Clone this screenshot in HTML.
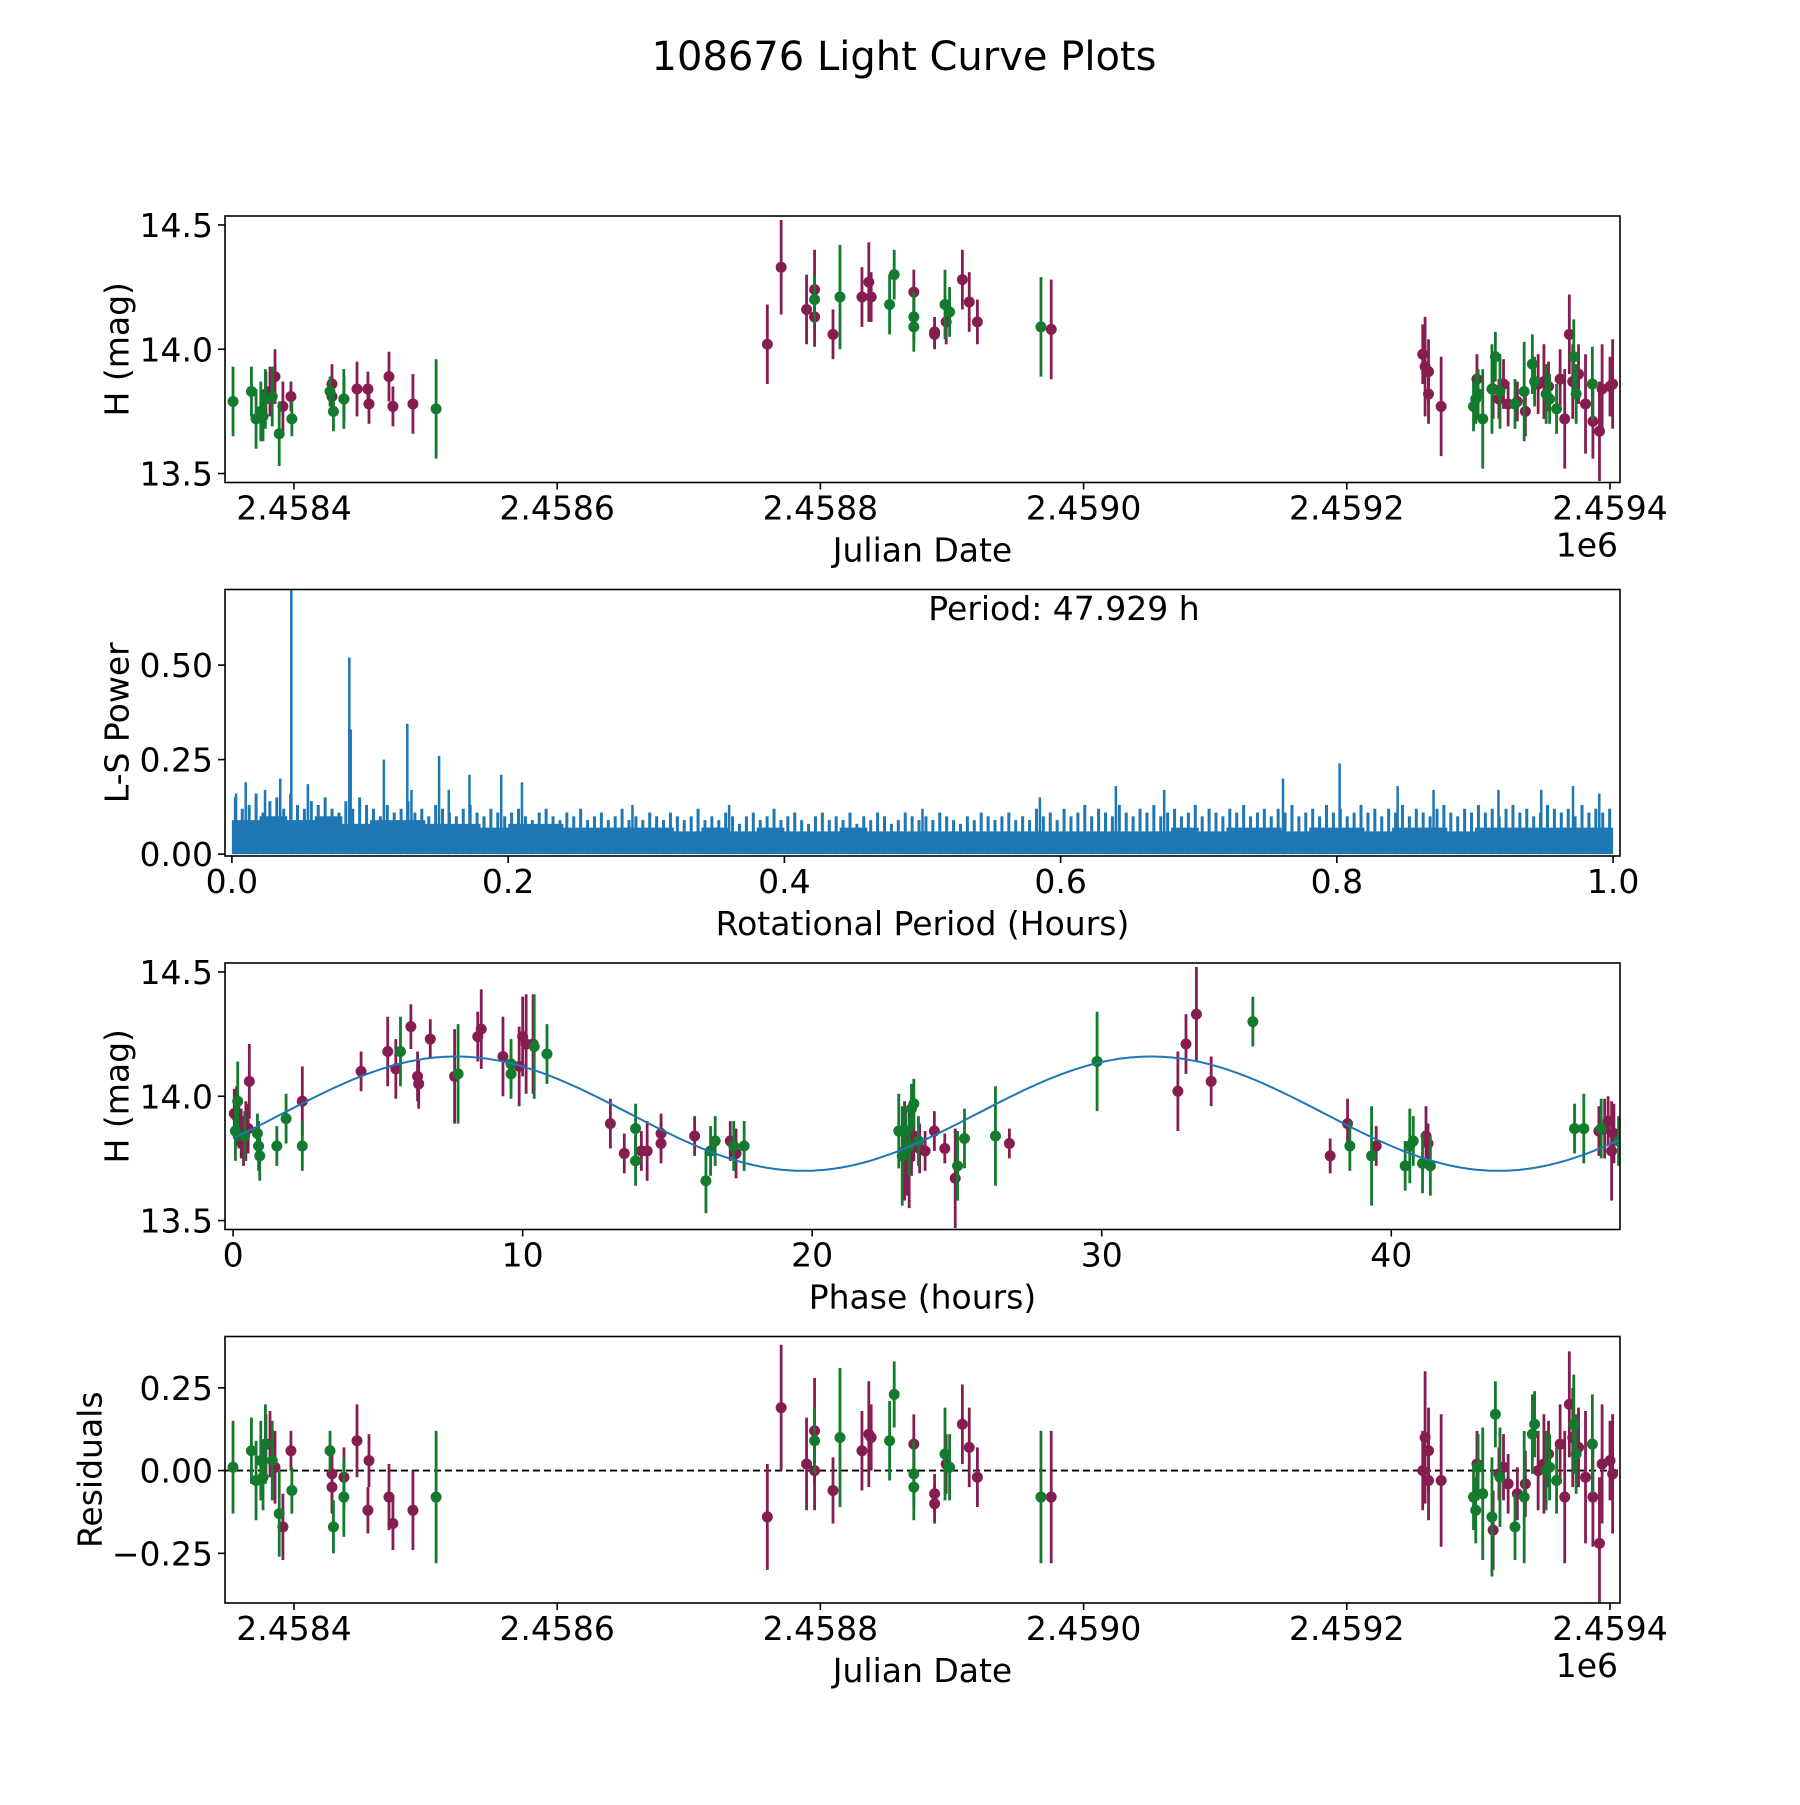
<!DOCTYPE html>
<html><head><meta charset="utf-8"><style>
html,body{margin:0;padding:0;background:#fff}
svg text{font-family:"DejaVu Sans","Liberation Sans",sans-serif;fill:#000}
</style></head><body>
<svg id="fig" xmlns="http://www.w3.org/2000/svg" width="1800" height="1800" viewBox="0 0 1800 1800">
<rect width="1800" height="1800" fill="#fff"/>
<text x="904" y="70" font-size="40" text-anchor="middle">108676 Light Curve Plots</text>
</svg>
<script>
// ---- data: time series [days since JD 2458400, mag, err, residual]
const magentaTime = [[-21.3,13.82,0.09,0.08],[-18.2,13.83,0.10,0.08],[-14.4,13.89,0.11,0.01],[-8.4,13.77,0.10,-0.17],[-2.3,13.81,0.06,0.06],[28.9,13.86,0.08,-0.01],[28.9,13.81,0.08,-0.05],[38,13.80,0.09,-0.02],[47.9,13.84,0.11,0.09],[56.2,13.84,0.07,-0.12],[57,13.78,0.08,0.03],[72.2,13.89,0.10,-0.08],[75.2,13.77,0.08,-0.16],[90.4,13.78,0.12,-0.12],
[359.7,14.02,0.16,-0.14],[370.2,14.33,0.19,0.19],[389.5,14.16,0.14,0.02],[395.6,14.24,0.16,0.12],[395.6,14.13,0.12,0.0],[409.6,14.06,0.10,-0.06],[431.6,14.21,0.12,0.06],[436.8,14.27,0.16,0.11],[438.6,14.21,0.10,0.10],[471,14.23,0.09,0.08],[486.8,14.07,0.06,-0.07],[486.8,14.06,0.06,-0.10],[495.6,14.11,0.09,0.02],[507.9,14.28,0.12,0.14],[513.1,14.19,0.12,0.07],[519.3,14.11,0.09,-0.02],[575.4,14.08,0.20,-0.08],
[857.7,13.98,0.12,0.0],[859.5,13.93,0.20,0.10],[862.1,13.91,0.13,0.06],[862.1,13.82,0.12,-0.03],[871.7,13.77,0.20,-0.03],[898.9,13.88,0.10,0.02],[911.2,13.84,0.12,-0.18],[915.6,13.80,0.08,-0.01],[919.1,13.86,0.10,0.01],[922.6,13.78,0.09,-0.04],[929.6,13.79,0.08,-0.07],[935.7,13.75,0.10,-0.04],[945.4,13.86,0.12,0.0],[949.8,13.87,0.15,0.02],[953.3,13.85,0.10,0.05],[962.1,13.88,0.12,0.08],[965.6,13.72,0.20,-0.08],[969.1,14.06,0.16,0.20],[971.7,13.87,0.15,0.10],[976.1,13.90,0.12,0.07],[981.4,13.78,0.20,-0.02],[987,13.71,0.15,-0.08],[992,13.67,0.20,-0.22],[994,13.84,0.18,0.02],[1000,13.85,0.12,0.03],[1002,13.86,0.18,-0.01]];
const greenTime = [[-46.3,13.79,0.14,0.01],[-32.3,13.83,0.10,0.06],[-28.8,13.72,0.12,-0.03],[-25.2,13.75,0.12,0.03],[-23.5,13.73,0.10,-0.02],[-21.7,13.80,0.12,0.08],[-16.5,13.81,0.12,0.03],[-11.2,13.66,0.13,-0.13],[-1.6,13.72,0.07,-0.06],[27.4,13.83,0.06,0.06],[30,13.75,0.08,-0.17],[37.9,13.80,0.12,-0.08],[108,13.76,0.20,-0.08],
[395.6,14.20,0.10,0.09],[414.9,14.21,0.21,0.10],[452.6,14.18,0.12,0.09],[456.1,14.30,0.10,0.23],[471,14.13,0.10,-0.01],[471,14.09,0.10,-0.05],[494.7,14.18,0.14,0.05],[498.2,14.15,0.10,0.01],[567.6,14.09,0.20,-0.08],
[896.3,13.77,0.10,-0.08],[898,13.80,0.10,-0.12],[899.8,13.82,0.10,0.01],[903.3,13.72,0.20,-0.07],[910.3,13.84,0.18,-0.14],[912.9,13.97,0.10,0.17],[916.4,13.83,0.15,-0.02],[927.8,13.78,0.10,-0.17],[934.8,13.83,0.20,-0.08],[941,13.94,0.12,0.11],[942.7,13.87,0.10,0.14],[951.5,13.82,0.12,0.0],[954.1,13.80,0.10,0.01],[959.4,13.76,0.10,-0.03],[972.5,13.97,0.15,0.14],[974.3,13.82,0.12,0.05],[986.6,13.86,0.15,0.08]];
// ---- phase-folded [phase hours, mag, err]
const magentaPhase = [[0.04,13.93,0.1],[0.12,13.92,0.12],[0.2,13.89,0.1],[0.28,13.85,0.1],[0.36,13.82,0.1],[0.44,13.86,0.12],[0.52,13.87,0.1],[0.56,14.06,0.15],[2.39,13.98,0.14],[4.42,14.10,0.08],[5.34,14.18,0.14],[5.62,14.11,0.12],[6.14,14.28,0.09],[6.37,14.08,0.1],[6.41,14.05,0.1],[6.81,14.23,0.08],[7.65,14.08,0.19],[8.45,14.24,0.1],[8.57,14.27,0.16],[9.32,14.16,0.16],[9.88,14.12,0.16],[10.0,14.24,0.16],[10.12,14.21,0.2],[10.36,14.21,0.2],[13.03,13.89,0.1],[13.51,13.77,0.08],[14.1,13.78,0.08],[14.3,13.78,0.12],[14.78,13.81,0.08],[14.78,13.85,0.08],[15.94,13.84,0.08],[17.17,13.82,0.08],[17.37,13.77,0.1],[23.19,13.78,0.2],[23.27,13.72,0.12],[23.35,13.75,0.2],[23.43,13.8,0.12],[23.51,13.84,0.1],[23.71,13.79,0.1],[23.9,13.78,0.08],[24.22,13.86,0.08],[24.58,13.79,0.06],[24.94,13.67,0.2],[26.81,13.81,0.06],[32.63,14.02,0.16],[32.91,14.21,0.12],[33.27,14.33,0.19],[33.78,14.06,0.1],[37.89,13.76,0.07],[38.49,13.89,0.1],[39.48,13.8,0.08],[41.2,13.84,0.12],[41.27,13.81,0.08],[47.17,13.86,0.1],[47.37,13.87,0.12],[47.49,13.9,0.1],[47.61,13.78,0.2],[47.69,13.85,0.12]];
const greenPhase = [[0.08,13.86,0.12],[0.16,13.98,0.16],[0.4,13.84,0.1],[0.88,13.8,0.1],[0.92,13.76,0.1],[0.84,13.85,0.08],[1.51,13.8,0.08],[1.83,13.91,0.1],[2.39,13.8,0.1],[5.78,14.18,0.14],[7.77,14.09,0.2],[9.6,14.09,0.1],[9.6,14.13,0.1],[10.4,14.2,0.21],[10.84,14.17,0.12],[13.9,13.87,0.1],[13.9,13.74,0.1],[16.33,13.66,0.13],[16.49,13.78,0.1],[16.65,13.82,0.1],[17.29,13.8,0.1],[17.65,13.8,0.1],[22.99,13.86,0.15],[23.11,13.76,0.2],[23.23,13.86,0.1],[23.35,13.8,0.12],[23.43,13.95,0.1],[23.51,13.97,0.1],[23.67,13.82,0.1],[25.02,13.72,0.14],[25.26,13.83,0.12],[26.33,13.84,0.2],[29.84,14.14,0.2],[35.22,14.3,0.1],[38.57,13.8,0.1],[39.32,13.76,0.2],[40.48,13.72,0.1],[40.64,13.8,0.15],[40.76,13.82,0.1],[41.08,13.73,0.12],[41.35,13.72,0.12],[46.33,13.87,0.1],[46.65,13.87,0.14],[47.25,13.87,0.12],[47.85,13.82,0.1]];
// sinusoid fit parameters
const fitMean = [13.93], fitAmp = [0.23], fitPeak = [7.7], fitCycle = [24.0];
// ---- periodogram
const periodogramFloor = [0.09,0.10,0.09,0.10,0.08,0.09,0.09,0.08,0.08,0.07,0.08,0.08,0.07,0.07,0.07,0.07,0.06,0.07,0.06,0.07,0.06,0.06,0.07,0.06,0.06,0.06,0.06,0.06,0.06,0.06,0.06,0.06,0.06,0.06,0.07,0.06,0.07,0.07,0.06,0.07,0.07,0.06,0.07,0.07,0.06,0.07,0.07,0.07,0.07,0.07];
const periodogramTexture = [0.15,0.12,0.13,0.16,0.11,0.14,0.15,0.12,0.16,0.13,0.12,0.14,0.13,0.15,0.12,0.11,0.14,0.12,0.15,0.13,0.12,0.10,0.13,0.11,0.12,0.14,0.11,0.12,0.10,0.13,0.12,0.11,0.10,0.12,0.13,0.11,0.10,0.12,0.11,0.10,
0.11,0.12,0.10,0.09,0.11,0.12,0.10,0.09,0.11,0.10,0.12,0.09,0.10,0.11,0.09,0.10,0.12,0.09,0.10,0.09,0.11,0.10,0.09,0.11,0.10,0.09,0.10,0.12,0.09,0.10,0.09,0.11,0.10,0.08,0.10,0.11,0.09,0.10,0.12,0.09,
0.10,0.11,0.09,0.08,0.10,0.11,0.09,0.10,0.09,0.11,0.08,0.10,0.09,0.11,0.10,0.08,0.09,0.11,0.10,0.09,0.10,0.09,0.11,0.10,0.09,0.08,0.10,0.09,0.11,0.10,0.09,0.10,0.11,0.09,0.10,0.09,0.12,0.10,0.11,0.09,
0.12,0.10,0.11,0.13,0.10,0.12,0.11,0.10,0.13,0.11,0.10,0.12,0.11,0.13,0.10,0.11,0.12,0.10,0.11,0.13,0.10,0.12,0.11,0.10,0.12,0.11,0.13,0.10,0.11,0.12,0.10,0.12,0.11,0.13,0.10,0.11,0.12,0.10,0.13,0.11,
0.12,0.10,0.11,0.13,0.11,0.12,0.10,0.12,0.11,0.13,0.10,0.12,0.11,0.10,0.12,0.13,0.11,0.10,0.12,0.11,0.13,0.11,0.12,0.10,0.12,0.13,0.11,0.12,0.10,0.11,0.13,0.12,0.11,0.12,0.10,0.13,0.11,0.12,0.11,0.12];
const periodogramPeaks = [[0.003,0.16],[0.010,0.19],[0.024,0.17],[0.035,0.20],[0.043,0.75],[0.055,0.185],[0.085,0.52],[0.086,0.33],[0.110,0.25],[0.127,0.345],[0.130,0.17],[0.150,0.26],[0.157,0.17],[0.172,0.21],[0.195,0.21],[0.210,0.19],[0.29,0.13],[0.36,0.13],[0.50,0.12],[0.585,0.15],[0.640,0.18],[0.675,0.17],[0.761,0.20],[0.802,0.24],[0.844,0.18],[0.870,0.17],[0.917,0.17],[0.948,0.17],[0.971,0.18],[0.990,0.16]];
const timeTicks = [0,200,400,600,800,1000];
const timeTickLabels = ["2.4584","2.4586","2.4588","2.4590","2.4592","2.4594"];
const magTicks = [13.5,14.0,14.5];
const magTickLabels = ["13.5","14.0","14.5"];
const periodTicks = [0,0.2,0.4,0.6,0.8,1.0];
const periodTickLabels = ["0.0","0.2","0.4","0.6","0.8","1.0"];
const powerTicks = [0,0.25,0.5];
const powerTickLabels = ["0.00","0.25","0.50"];
const phaseTicks = [0,10,20,30,40];
const phaseTickLabels = ["0","10","20","30","40"];
const residTicks = [-0.25,0,0.25];
const residTickLabels = ["\u22120.25","0.00","0.25"];

const NS = "http://www.w3.org/2000/svg";
const svg = document.getElementById('fig');
const MAG = '#861d51', GRN = '#137a2e', BLUE = '#1f77b4';
const FS = 33;
function mk(tag, attrs, parent){ const e=document.createElementNS(NS,tag); for(const k in attrs) e.setAttribute(k,attrs[k]); (parent||svg).appendChild(e); return e; }
const L=225, R=1620;
function panel(top,h,xmin,xmax,ymin,ymax,name){
  const g=mk('g',{});
  
  
  const sx=v=>L+(v-xmin)/(xmax-xmin)*(R-L);
  const sy=v=>top+h-(v-ymin)/(ymax-ymin)*h;
  return {g,sx,sy,top,h};
}
function frame(p,name){
  const r=mk('rect',{x:L,y:p.top,width:R-L,height:p.h,fill:'none',stroke:'#000','stroke-width':1.6},p.g);
  
  
}
function xticks(p,vals,labels,name){
  vals.forEach((v,i)=>{ const x=p.sx(v), b=p.top+p.h;
    const t=mk('line',{x1:x,x2:x,y1:b,y2:b+7,stroke:'#000','stroke-width':1.6},p.g);
    
    
    const tx=mk('text',{x:x,y:b+37,'font-size':FS,'text-anchor':'middle'},p.g); tx.textContent=labels[i];
    
    
  });
}
function yticks(p,vals,labels,name){
  vals.forEach((v,i)=>{ const y=p.sy(v);
    const t=mk('line',{x1:L-7,x2:L,y1:y,y2:y,stroke:'#000','stroke-width':1.6},p.g);
    
    
    const tx=mk('text',{x:L-12,y:y+12,'font-size':FS,'text-anchor':'end'},p.g); tx.textContent=labels[i];
    
    
  });
}
function label(p,text,axis,name,xoff){
  let t;
  if(axis==='x'){ t=mk('text',{x:(L+R)/2,y:p.top+p.h+79,'font-size':FS,'text-anchor':'middle'},p.g); }
  else { const cy=p.top+p.h/2, cx=xoff; t=mk('text',{x:cx,y:cy,'font-size':FS,'text-anchor':'middle',transform:`rotate(-90 ${cx} ${cy})`,'dominant-baseline':'central'},p.g); }
  t.textContent=text;
  
  
}
function offsetText(p){
  const t=mk('text',{x:1618,y:p.top+p.h+74,'font-size':FS,'text-anchor':'end'},p.g); t.textContent='1e6';
  
  
}
function points(p,arr,xi,yi,ei,color,name){
  const g=mk('g',{},p.g);
  
  
  arr.forEach(d=>{
    const x=p.sx(d[0]), y=p.sy(d[yi]);
    const e=d[ei];
    const ln=mk('line',{x1:x,x2:x,y1:p.sy(d[yi]-e),y2:p.sy(d[yi]+e),stroke:color,'stroke-width':2.8},g);
    
    
    const c=mk('circle',{cx:x,cy:y,r:5.5,fill:color},g);
    
    
  });
}
function clip(p,id){ const cp=mk('clipPath',{id:id}); mk('rect',{x:L,y:p.top,width:R-L,height:p.h},cp); return 'url(#'+id+')'; }

// Panel 1
const p1=panel(216,266.5,-52.4,1007.6,13.464,14.536,'light-curve-panel');
const c1=mk('g',{'clip-path':clip(p1,'c1')},p1.g);
points({...p1,g:c1},magentaTime,0,1,2,MAG,'magenta-series');
points({...p1,g:c1},greenTime,0,1,2,GRN,'green-series');
frame(p1,'light-curve-axes'); xticks(p1,timeTicks,timeTickLabels,'x-axis'); yticks(p1,magTicks,magTickLabels,'y-axis');
label(p1,'Julian Date','x','x-axis-title'); label(p1,'H (mag)','y','y-axis-title',117); offsetText(p1);

// Panel 2
const p2=panel(589.5,266.5,-0.005,1.005,-0.005,0.70,'periodogram-panel');
const c2=mk('g',{'clip-path':clip(p2,'c2')},p2.g);
{ let d='M'+p2.sx(0)+' '+p2.sy(0);
  periodogramFloor.forEach((v,i)=>{ const x0=p2.sx(i/periodogramFloor.length), x1=p2.sx((i+1)/periodogramFloor.length); d+=' L'+x0+' '+p2.sy(v)+' L'+x1+' '+p2.sy(v); });
  d+=' L'+p2.sx(1)+' '+p2.sy(0)+' Z';
  const a=mk('path',{d:d,fill:BLUE},c2);
  
  
  periodogramTexture.forEach((v,i)=>{ const x=p2.sx((i+0.5)/periodogramTexture.length);
    const s=mk('line',{x1:x,x2:x,y1:p2.sy(0),y2:p2.sy(v),stroke:BLUE,'stroke-width':3},c2);
    
    
  });
  periodogramPeaks.forEach(pk=>{ const x=p2.sx(pk[0]);
    const s=mk('line',{x1:x,x2:x,y1:p2.sy(0),y2:p2.sy(pk[1]),stroke:BLUE,'stroke-width':2.5},c2);
    
    
  });
}
frame(p2,'periodogram-axes'); xticks(p2,periodTicks,periodTickLabels,'x-axis'); yticks(p2,powerTicks,powerTickLabels,'y-axis');
label(p2,'Rotational Period (Hours)','x','x-axis-title'); label(p2,'L-S Power','y','y-axis-title',117);
{ const t=mk('text',{x:1064,y:620,'font-size':FS,'text-anchor':'middle'},p2.g); t.textContent='Period: 47.929 h';
  
   }

// Panel 3
const p3=panel(963,266.5,-0.28,47.9,13.464,14.536,'phase-panel');
const c3=mk('g',{'clip-path':clip(p3,'c3')},p3.g);
points({...p3,g:c3},magentaPhase,0,1,2,MAG,'magenta-phase-series');
points({...p3,g:c3},greenPhase,0,1,2,GRN,'green-phase-series');
{ let d=''; for(let i=0;i<=480;i++){ const ph=i*0.1; const m=fitMean[0]+fitAmp[0]*Math.cos(2*Math.PI*(ph-fitPeak[0])/fitCycle[0]); d+=(i?' L':'M')+p3.sx(ph).toFixed(1)+' '+p3.sy(m).toFixed(1); }
  const f=mk('path',{d:d,fill:'none',stroke:BLUE,'stroke-width':2},c3);
  
   }
frame(p3,'phase-axes'); xticks(p3,phaseTicks,phaseTickLabels,'x-axis'); yticks(p3,magTicks,magTickLabels,'y-axis');
label(p3,'Phase (hours)','x','x-axis-title'); label(p3,'H (mag)','y','y-axis-title',117);

// Panel 4
const p4=panel(1336.5,266.5,-52.4,1007.6,-0.40,0.405,'residuals-panel');
const c4=mk('g',{'clip-path':clip(p4,'c4')},p4.g);
{ const z=mk('line',{x1:L,x2:R,y1:p4.sy(0),y2:p4.sy(0),stroke:'#000','stroke-width':1.8,'stroke-dasharray':'7,4'},c4);
  
   }
points({...p4,g:c4},magentaTime,0,3,2,MAG,'magenta-residuals');
points({...p4,g:c4},greenTime,0,3,2,GRN,'green-residuals');
frame(p4,'residuals-axes'); xticks(p4,timeTicks,timeTickLabels,'x-axis'); yticks(p4,residTicks,residTickLabels,'y-axis');
label(p4,'Julian Date','x','x-axis-title'); label(p4,'Residuals','y','y-axis-title',90); offsetText(p4);
</script>
</body></html>
